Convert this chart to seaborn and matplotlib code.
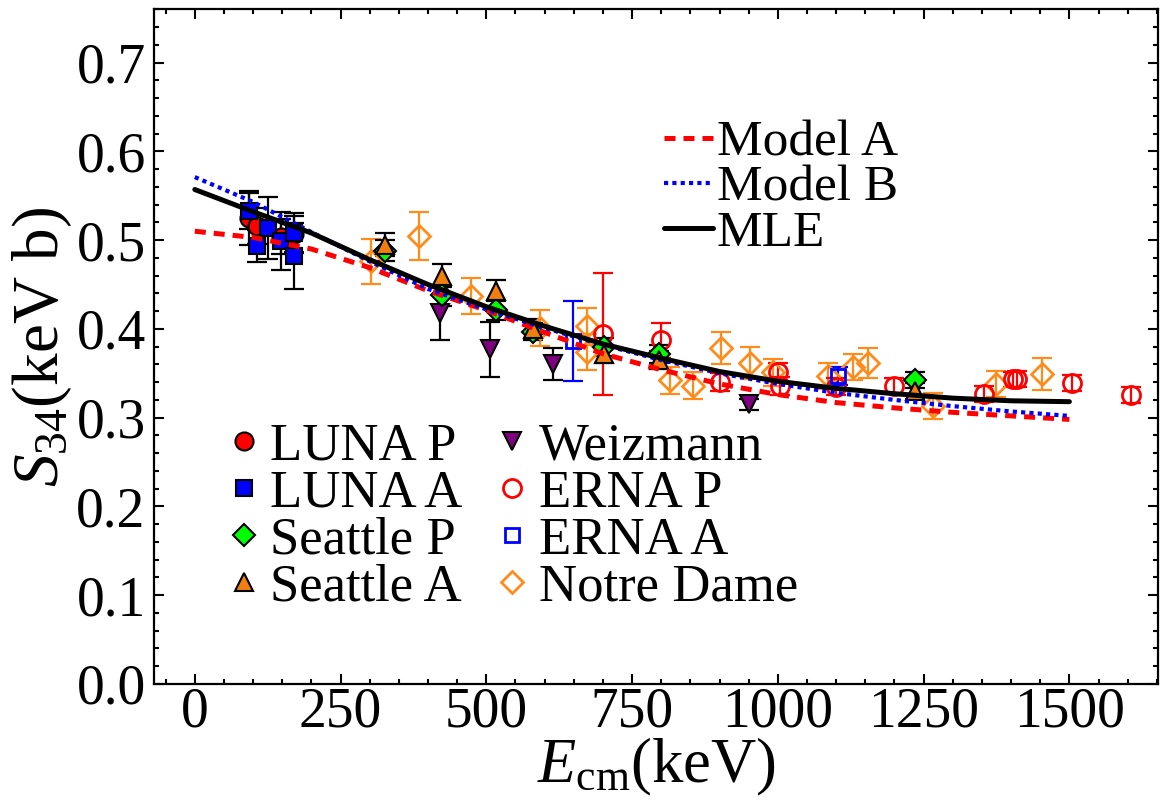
import numpy as np
import pandas as pd
import matplotlib
matplotlib.use("Agg")
import matplotlib.pyplot as plt
from matplotlib.ticker import MultipleLocator, FixedLocator
import seaborn as sns

# ---------------- data ----------------
curve_E = [0, 100, 200, 300, 400, 500, 600, 700, 800, 900, 1000, 1100, 1200, 1300, 1400, 1500]
modelA_S = [0.510, 0.503, 0.490, 0.469, 0.443, 0.421, 0.396, 0.372, 0.354, 0.338, 0.326, 0.317, 0.311, 0.306, 0.302, 0.298]
modelB_S = [0.571, 0.543, 0.509, 0.476, 0.445, 0.422, 0.401, 0.382, 0.365, 0.350, 0.338, 0.328, 0.320, 0.313, 0.307, 0.302]
mle_S = [0.557, 0.532, 0.508, 0.478, 0.450, 0.425, 0.403, 0.383, 0.367, 0.352, 0.341, 0.333, 0.327, 0.322, 0.319, 0.318]

luna_p_E = [93, 106, 148, 170]
luna_p_S = [0.525, 0.516, 0.504, 0.507]
luna_p_err = [0.030, 0.020, 0.020, 0.020]

luna_a_E = [93, 106, 126, 148, 170, 170]
luna_a_S = [0.533, 0.493, 0.514, 0.499, 0.508, 0.482]
luna_a_err = [0.020, 0.018, 0.035, 0.033, 0.022, 0.037]

seattle_p_E = [327, 424, 517, 580, 702, 797, 1235]
seattle_p_S = [0.488, 0.438, 0.421, 0.397, 0.380, 0.372, 0.342]
seattle_p_err = [0.012, 0.012, 0.011, 0.010, 0.010, 0.010, 0.009]

seattle_a_E = [327, 424, 517, 580, 702, 797, 1235]
seattle_a_S = [0.495, 0.460, 0.443, 0.400, 0.372, 0.365, 0.330]
seattle_a_err = [0.013, 0.013, 0.012, 0.011, 0.010, 0.010, 0.009]

weiz_E = [420, 506, 614, 950]
weiz_S = [0.418, 0.377, 0.360, 0.315]
weiz_err = [0.030, 0.031, 0.018, 0.006]

erna_p_E = [700, 800, 900, 1000, 1003, 1100, 1200, 1353, 1403, 1410, 1505, 1605]
erna_p_S = [0.394, 0.387, 0.340, 0.352, 0.336, 0.335, 0.336, 0.327, 0.343, 0.344, 0.339, 0.325]
erna_p_err = [0.069, 0.020, 0.010, 0.010, 0.010, 0.010, 0.009, 0.009, 0.009, 0.009, 0.009, 0.009]

erna_a_E = [649, 1103]
erna_a_S = [0.386, 0.347]
erna_a_err = [0.045, 0.010]

nd_E = [303, 385, 473, 592, 672, 672, 815, 854, 903, 952, 992, 1086, 1129, 1155, 1266, 1374, 1453]
nd_S = [0.476, 0.505, 0.437, 0.401, 0.403, 0.374, 0.342, 0.336, 0.379, 0.362, 0.351, 0.347, 0.357, 0.362, 0.313, 0.338, 0.349]
nd_err = [0.025, 0.027, 0.020, 0.020, 0.021, 0.020, 0.015, 0.015, 0.018, 0.018, 0.015, 0.015, 0.015, 0.017, 0.015, 0.015, 0.018]

# ---------------- style ----------------
sns.set_style("ticks")
plt.rcParams["font.family"] = ["Liberation Serif", "DejaVu Serif"]
plt.rcParams["mathtext.fontset"] = "custom"
plt.rcParams["mathtext.rm"] = "Liberation Serif"
plt.rcParams["mathtext.it"] = "Liberation Serif:italic"
plt.rcParams["mathtext.bf"] = "Liberation Serif:bold"
plt.rcParams["text.color"] = "black"
plt.rcParams["axes.labelcolor"] = "black"
plt.rcParams["xtick.color"] = "black"
plt.rcParams["ytick.color"] = "black"
plt.rcParams["xtick.labelcolor"] = "black"
plt.rcParams["ytick.labelcolor"] = "black"

fig = plt.figure(figsize=(11.62, 8.0), dpi=100)
ax = fig.add_axes([154 / 1162, 1 - 684 / 800, (1158 - 154) / 1162, (684 - 9.3) / 800])

RED = "#ff0000"
BLUE = "#0000ff"
GREEN = "#00ff00"
ORANGE_T = "#f07f0f"
ORANGE = "#ff8c1a"
PURPLE = "#7f007f"

cap = 7
elw = 1.6

sets = [
    # E, S, err, marker, ms, face, edge, mew, errcolor, label
    (nd_E, nd_S, nd_err, "D", 11.0, "none", ORANGE, 2.0, ORANGE, "Notre Dame"),
    (erna_p_E, erna_p_S, erna_p_err, "o", 13.0, "none", RED, 2.0, RED, "ERNA P"),
    (erna_a_E, erna_a_S, erna_a_err, "s", 10.5, "none", BLUE, 2.0, BLUE, "ERNA A"),
    (weiz_E, weiz_S, weiz_err, "v", 13.5, PURPLE, "black", 1.5, "black", "Weizmann"),
    (luna_p_E, luna_p_S, luna_p_err, "o", 13.0, RED, "black", 1.5, "black", "LUNA P"),
    (luna_a_E, luna_a_S, luna_a_err, "s", 11.5, BLUE, "black", 1.5, "black", "LUNA A"),
    (seattle_p_E, seattle_p_S, seattle_p_err, "D", 11.0, GREEN, "black", 1.5, "black", "Seattle P"),
    (seattle_a_E, seattle_a_S, seattle_a_err, "^", 13.5, ORANGE_T, "black", 1.5, "black", "Seattle A"),
]

handles = {}
for E, S, err, mk, ms, fc, ec, mew, errc, lab in sets:
    ax.errorbar(E, S, yerr=err, fmt="none", ecolor=errc, elinewidth=elw,
                capsize=cap, capthick=elw, zorder=2)
    h, = ax.plot(E, S, linestyle="none", marker=mk, markersize=ms,
                 markerfacecolor=fc, markeredgecolor=ec, markeredgewidth=mew,
                 label=lab, zorder=3)
    handles[lab] = h

curves = pd.DataFrame({"E": curve_E, "A": modelA_S, "B": modelB_S, "MLE": mle_S})
sns.lineplot(data=curves, x="E", y="A", ax=ax, color=RED, linewidth=3.6,
             linestyle=(0, (2.2, 1.6)), zorder=4)
sns.lineplot(data=curves, x="E", y="B", ax=ax, color=BLUE, linewidth=3.0,
             linestyle=(0, (1.0, 1.0)), zorder=4)
sns.lineplot(data=curves, x="E", y="MLE", ax=ax, color="black", linewidth=3.6,
             zorder=5)
line_handles = ax.get_lines()[-3:]

# ---------------- axes ----------------
ax.set_xlim(-70, 1652)
ax.set_ylim(0.0, 0.76)
ax.xaxis.set_major_locator(FixedLocator([0, 250, 500, 750, 1000, 1250, 1500]))
ax.xaxis.set_minor_locator(MultipleLocator(50))
ax.yaxis.set_major_locator(FixedLocator([0.0, 0.1, 0.2, 0.3, 0.4, 0.5, 0.6, 0.7]))
ax.yaxis.set_minor_locator(MultipleLocator(0.02))
ax.set_yticklabels(["0.0", "0.1", "0.2", "0.3", "0.4", "0.5", "0.6", "0.7"])
ax.tick_params(which="both", direction="in", top=True, right=True, width=1.5,
               color="black", labelcolor="black")
ax.tick_params(which="major", length=7, labelsize=40)
ax.tick_params(which="minor", length=3.5)
ax.tick_params(axis="x", which="major", pad=2)
ax.tick_params(axis="y", which="major", pad=6)
for sp in ax.spines.values():
    sp.set_visible(True)
    sp.set_linewidth(1.6)
    sp.set_color("black")

ax.set_xlabel(r"$E_{\mathrm{cm}}$(keV)", fontsize=45, labelpad=-2, color="black")
ax.set_ylabel(r"$S_{34}$(keV b)", fontsize=47, labelpad=2, color="black")

# ---------------- legends ----------------
leg1 = ax.legend(line_handles, ["Model A", "Model B", "MLE"], loc="upper left",
                 bbox_to_anchor=(0.508, 0.836), frameon=False, fontsize=37,
                 handlelength=0.95, handletextpad=0.08, labelspacing=-0.04,
                 borderpad=0, borderaxespad=0)
ax.add_artist(leg1)

order = ["LUNA P", "LUNA A", "Seattle P", "Seattle A",
         "Weizmann", "ERNA P", "ERNA A", "Notre Dame"]
leg2 = ax.legend([handles[k] for k in order], order, loc="upper left",
                 bbox_to_anchor=(0.063, 0.387), frameon=False, fontsize=38,
                 ncol=2, handlelength=1.0, handletextpad=0.0,
                 labelspacing=-0.02, columnspacing=0.45, borderpad=0,
                 borderaxespad=0)
for t in list(leg1.get_texts()) + list(leg2.get_texts()):
    t.set_color("black")

fig.savefig("out.png", dpi=100)
